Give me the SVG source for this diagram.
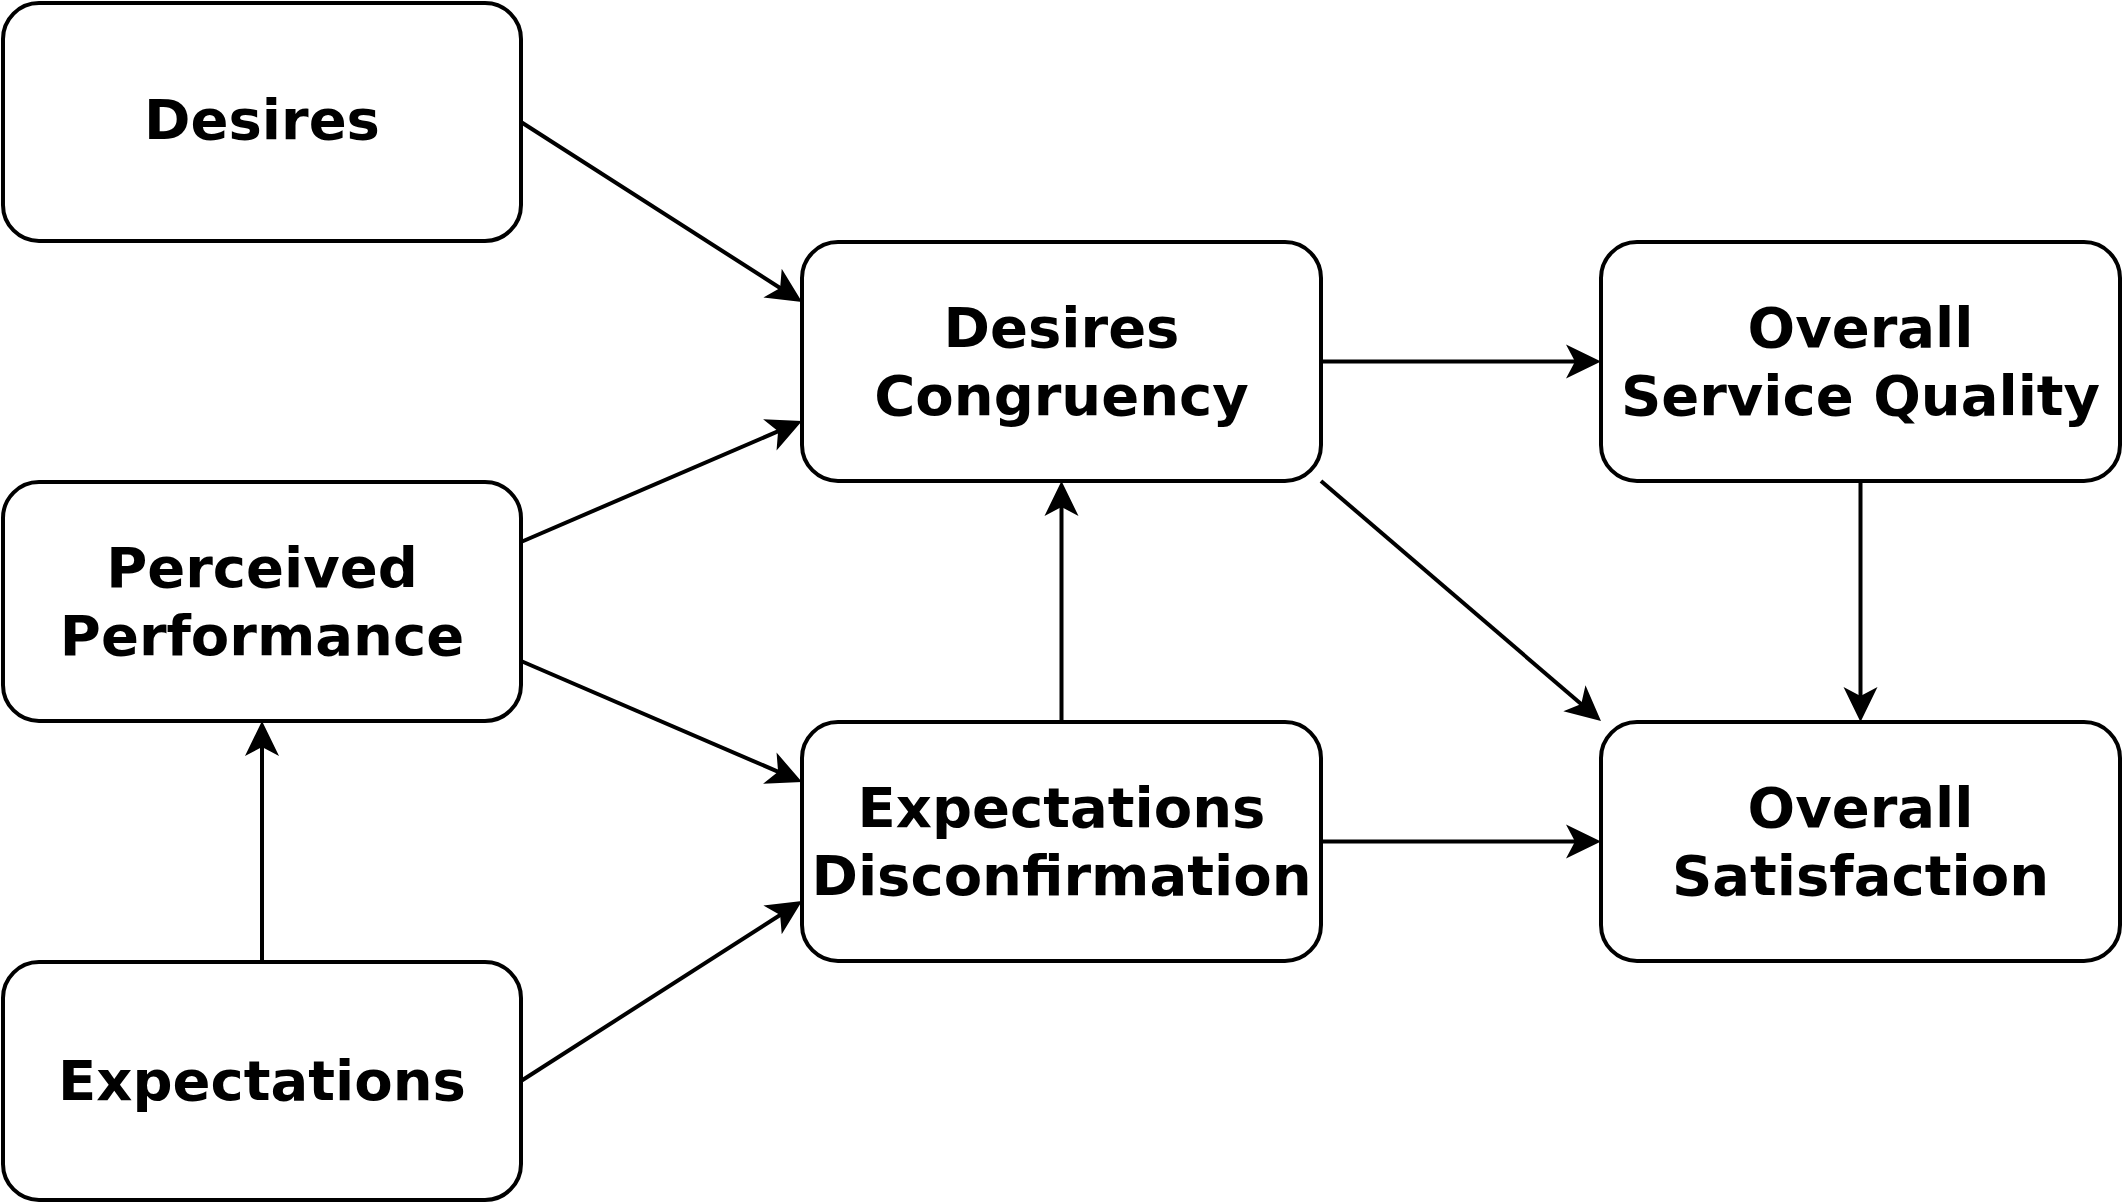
<svg xmlns="http://www.w3.org/2000/svg" width="2124" height="1204" viewBox="0 0 2124 1204">
<style>
.box{fill:#ffffff;stroke:#000000;stroke-width:4}
.lbl{font-family:"DejaVu Sans",Verdana,sans-serif;font-weight:bold;font-size:56px;fill:#000000;text-anchor:middle}
.edge{fill:none;stroke:#000000;stroke-width:4}
</style>
<defs>
<marker id="arr" markerUnits="userSpaceOnUse" viewBox="-16 -18 37 36" markerWidth="37" markerHeight="36" refX="0" refY="0" orient="auto">
<path d="M20,0 L-15,-17 L-6,0 L-15,17 Z" fill="#000000"/>
</marker>
</defs>
<rect width="2124" height="1204" fill="#ffffff"/>
<g id="connectors">
<path class="edge" d="M521,122 L785.2,291.2" marker-end="url(#arr)"/>
<path class="edge" d="M521,542 L783.6,428.9" marker-end="url(#arr)"/>
<path class="edge" d="M521,661 L783.6,774.1" marker-end="url(#arr)"/>
<path class="edge" d="M521,1081 L785.2,911.8" marker-end="url(#arr)"/>
<path class="edge" d="M262,962 L262,741" marker-end="url(#arr)"/>
<path class="edge" d="M1061.5,722 L1061.5,501" marker-end="url(#arr)"/>
<path class="edge" d="M1321,361.5 L1581,361.5" marker-end="url(#arr)"/>
<path class="edge" d="M1321,481 L1585.8,708" marker-end="url(#arr)"/>
<path class="edge" d="M1321,841.5 L1581,841.5" marker-end="url(#arr)"/>
<path class="edge" d="M1860.5,481 L1860.5,702" marker-end="url(#arr)"/>
</g>
<g id="desires">
<rect class="box" x="3" y="3" width="518" height="238" rx="36" ry="36"/>
<text class="lbl" x="262" y="139">Desires</text>
</g>
<g id="perceived-performance">
<rect class="box" x="3" y="482" width="518" height="239" rx="36" ry="36"/>
<text class="lbl" x="262" y="587">Perceived</text>
<text class="lbl" x="262" y="655">Performance</text>
</g>
<g id="expectations">
<rect class="box" x="3" y="962" width="518" height="238" rx="36" ry="36"/>
<text class="lbl" x="262" y="1100">Expectations</text>
</g>
<g id="desires-congruency">
<rect class="box" x="802" y="242" width="519" height="239" rx="36" ry="36"/>
<text class="lbl" x="1061.5" y="347">Desires</text>
<text class="lbl" x="1061.5" y="415">Congruency</text>
</g>
<g id="expectations-disconfirmation">
<rect class="box" x="802" y="722" width="519" height="239" rx="36" ry="36"/>
<text class="lbl" x="1061.5" y="827">Expectations</text>
<text class="lbl" x="1061.5" y="895">Disconfirmation</text>
</g>
<g id="overall-service-quality">
<rect class="box" x="1601" y="242" width="519" height="239" rx="36" ry="36"/>
<text class="lbl" x="1860.5" y="347">Overall</text>
<text class="lbl" x="1860.5" y="415">Service Quality</text>
</g>
<g id="overall-satisfaction">
<rect class="box" x="1601" y="722" width="519" height="239" rx="36" ry="36"/>
<text class="lbl" x="1860.5" y="827">Overall</text>
<text class="lbl" x="1860.5" y="895">Satisfaction</text>
</g>
</svg>
